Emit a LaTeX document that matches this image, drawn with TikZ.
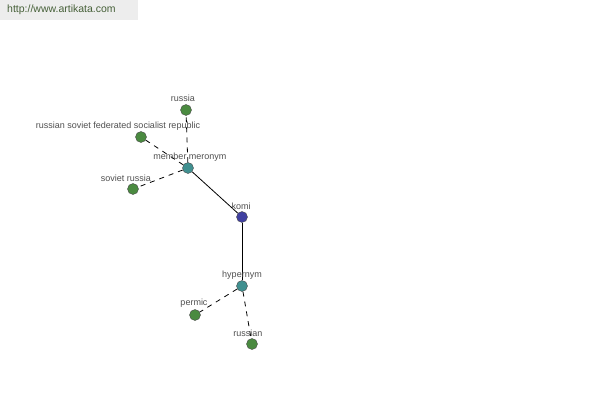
\documentclass[tikz,border=0pt]{standalone}
\usepackage{fontspec}
\setmainfont{Liberation Sans}
\definecolor{leafgreen}{RGB}{74,138,64}
\definecolor{relteal}{RGB}{64,144,144}
\definecolor{headblue}{RGB}{64,64,160}
\definecolor{labelgray}{RGB}{80,80,80}
\definecolor{urlgreen}{RGB}{70,96,56}
\tikzset{
	dot/.style={circle, draw=black!70, inner sep=0pt, minimum size=11pt},
	leaf/.style={dot, fill=leafgreen},
	rel/.style={dot, fill=relteal},
	head/.style={dot, fill=headblue},
	lbl/.style={font=\fontsize{9}{10}\selectfont, text=labelgray, inner sep=1pt},
	link/.style={dash pattern=on 5pt off 5pt, line width=0.8pt}
}
\begin{document}
\begin{tikzpicture}[x=1pt, y=-1pt]
	\useasboundingbox[fill=white] (0,0) rectangle (600,400);
	\fill[black!7] (0,0) rectangle (138,20);
	\node[font=\fontsize{10.5}{12}\selectfont, text=urlgreen, anchor=west, inner sep=0pt] (url) at (7,10) {http://www.artikata.com};
	% nodes
	\node[head] (komi) at (242,217) {};
	\node[rel] (mero) at (188,168) {};
	\node[rel] (hyper) at (242,286) {};
	\node[leaf] (russia) at (186,110) {};
	\node[leaf] (rsfsr) at (141,137) {};
	\node[leaf] (sovrus) at (133,189) {};
	\node[leaf] (permic) at (195,315) {};
	\node[leaf] (russian) at (252,344) {};
	% edges
	\draw[line width=0.8pt] (komi) -- (mero);
	\draw[line width=0.8pt] (komi) -- (hyper);
	\draw[link] (mero) -- (russia);
	\draw[link] (mero) -- (rsfsr);
	\draw[link] (mero) -- (sovrus);
	\draw[link] (hyper) -- (permic);
	\draw[link] (hyper) -- (russian);
	% labels
	\node[lbl] (komi-l) at (241,206) {komi};
	\node[lbl] (mero-l) at (190,157) {member meronym};
	\node[lbl] (hyper-l) at (242,275) {hypernym};
	\node[lbl] (russia-l) at (183,98) {russia};
	\node[lbl] (rsfsr-l) at (118,126) {russian soviet federated socialist republic};
	\node[lbl] (sovrus-l) at (126,178) {soviet russia};
	\node[lbl] (permic-l) at (194,303) {permic};
	\node[lbl] (russian-l) at (248,333) {russian};
\end{tikzpicture}
\end{document}
